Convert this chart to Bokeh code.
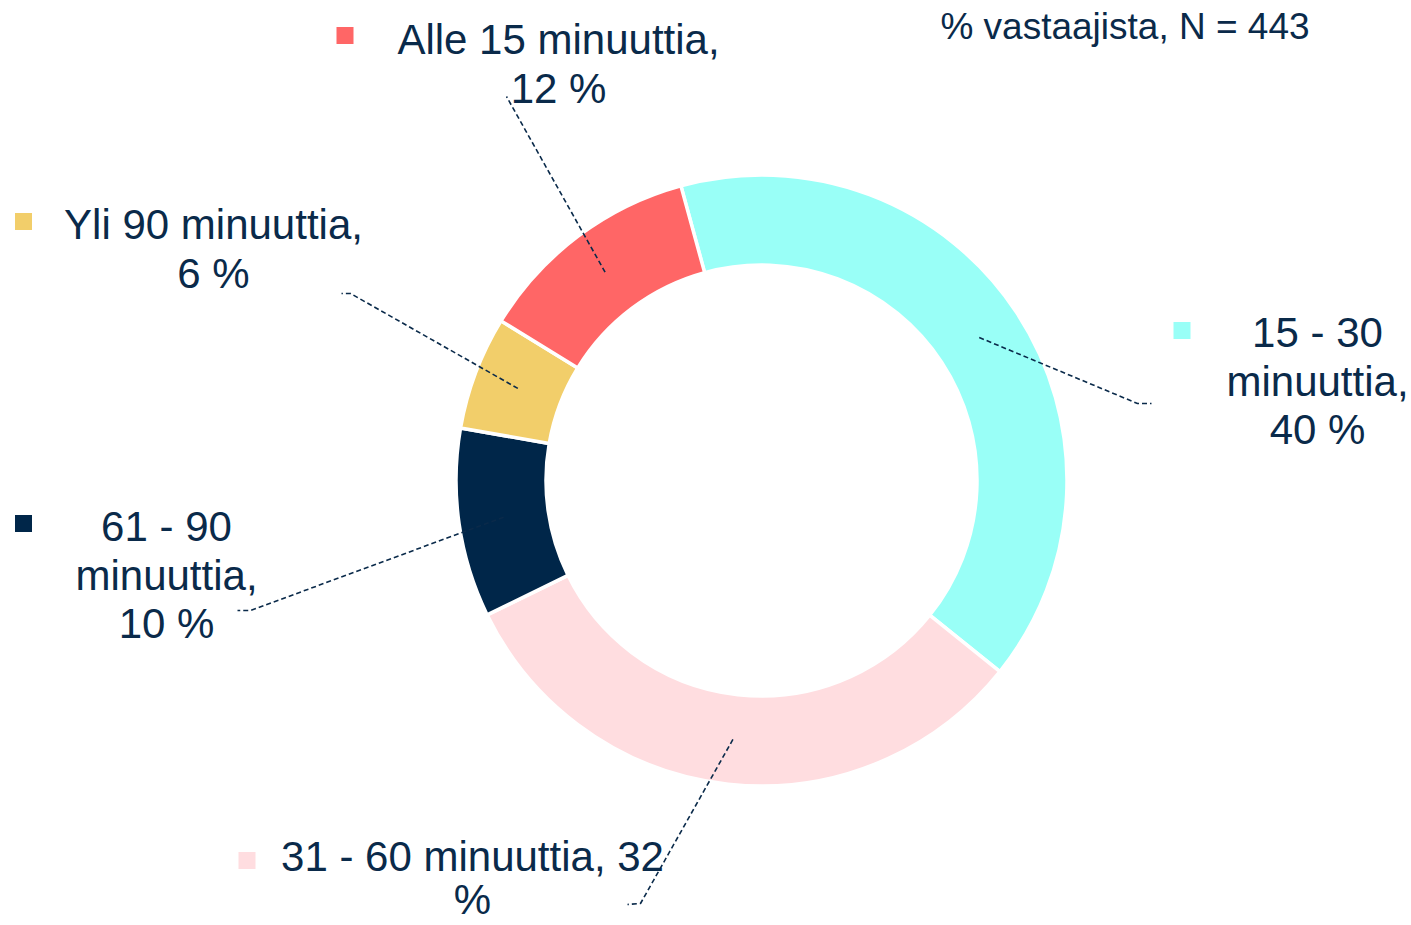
import math
import textwrap
from bokeh.plotting import figure
from bokeh.models import Range1d, ColumnDataSource
from bokeh.core.properties import value
from bokeh.embed import file_html
from bokeh.resources import INLINE

# ---------------- data ----------------
categories = ["15 - 30 minuuttia", "31 - 60 minuuttia", "61 - 90 minuuttia",
              "Yli 90 minuuttia", "Alle 15 minuuttia"]
values = [40, 32, 10, 6, 12]
title_text = "% vastaajista, N = 443"

# ---------------- styles / layout ----------------
colors = ["#99FFF7", "#FFDDE0", "#002649", "#F2CE6A", "#FF6666"]
text_color = "#0A2A4A"
font = value("Liberation Sans")
wrap_widths = [10, 21, 10, 17, 18]
# label anchors in picture pixel coordinates: (centre x, first line y)
label_anchor_px = [(1317, 332), (472, 856), (166, 526), (213, 224), (558, 39)]
line_heights = [48.5, 43.0, 48.5, 48.5, 48.5]
# outer leader-line points in picture pixels
leader_outer_px = [[(1137, 403), (1151, 403)],
                   [(640, 903), (627, 904)],
                   [(250, 610), (237, 610)],
                   [(350, 293), (341, 293)],
                   [(506, 96)]]
marker_px = [(1181.5, 330), (246.5, 860), (23, 523), (23, 221), (344.5, 35)]
title_px = (1124.5, 26)

CX, CY = 761, 480          # donut centre (picture px)
R_OUT, R_IN = 305.5, 215.5
START_DEG = -15.3          # clockwise from 12 o'clock

W, H = 1411, 925


def to_data(px, py):
    return px - CX, CY - py


p = figure(width=W, height=H,
           x_range=Range1d(-CX, W - CX),
           y_range=Range1d(CY - H, CY),
           output_backend="svg", toolbar_location=None, min_border=0,
           x_axis_location=None, y_axis_location=None)
p.grid.visible = False
p.outline_line_color = None
p.background_fill_color = "white"
p.border_fill_color = "white"

# wedges
total = sum(values)
th_start, th_end = [], []
acc = START_DEG
for v in values:
    th_start.append(acc)
    acc += 360.0 * v / total
    th_end.append(acc)

wsrc = ColumnDataSource(dict(
    start=[math.radians(90 - t) for t in th_start],
    end=[math.radians(90 - t) for t in th_end],
    color=colors,
))
p.annular_wedge(x=0, y=0, inner_radius=R_IN, outer_radius=R_OUT,
                start_angle="start", end_angle="end", direction="clock",
                fill_color="color", line_color="white", line_width=3.5,
                source=wsrc)

# leader lines
xs, ys = [], []
r_mid = (R_IN + R_OUT) / 2.0
for i in range(len(values)):
    mid = math.radians((th_start[i] + th_end[i]) / 2.0)
    lx = [r_mid * math.sin(mid)]
    ly = [r_mid * math.cos(mid)]
    for (px, py) in leader_outer_px[i]:
        dx, dy = to_data(px, py)
        lx.append(dx)
        ly.append(dy)
    xs.append(lx)
    ys.append(ly)
p.multi_line(xs=xs, ys=ys, line_color=text_color, line_width=1.6,
             line_dash="5 3")

# legend markers
mx, my = zip(*[to_data(*m) for m in marker_px])
p.rect(x=list(mx), y=list(my), width=17, height=17, fill_color=colors,
       line_color=None)

# labels
tx, ty, tt = [], [], []
for i, (cat, v) in enumerate(zip(categories, values)):
    lines = textwrap.wrap(f"{cat}, {v} %", wrap_widths[i],
                          break_on_hyphens=False)
    ax, ay = to_data(*label_anchor_px[i])
    for j, line in enumerate(lines):
        tx.append(ax)
        ty.append(ay - j * line_heights[i])
        tt.append(line)
p.text(x=tx, y=ty, text=tt, text_align="center", text_baseline="alphabetic",
       text_font=font, text_font_size="42px", text_color=text_color)

# title
ttx, tty = to_data(*title_px)
p.text(x=[ttx], y=[tty], text=[title_text], text_align="center",
       text_baseline="alphabetic", text_font=font, text_font_size="37px",
       text_color=text_color)

open("out.html", "w").write(file_html(p, INLINE))
